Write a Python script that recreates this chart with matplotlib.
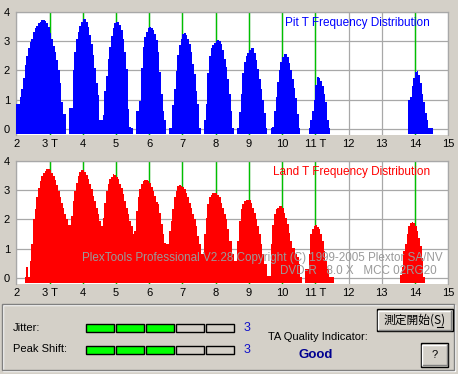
import numpy as np
import matplotlib.pyplot as plt
from matplotlib.patches import Rectangle

plt.rcParams['font.family'] = ['Liberation Sans', 'DejaVu Sans']
plt.rcParams['font.size'] = 8

W, H = 458, 374
BG = '#d4d0c8'

# histogram bin width (in T)
bin_w = 0.05

t_ticks = list(range(2, 16))
t_labels = ['2', '3 T', '4', '5', '6', '7', '8', '9', '10', '11 T', '12', '13', '14', '15']
ref_t = [3, 4, 5, 6, 7, 8, 9, 10, 11, 14]

# Pit T distribution: first bin of each peak + bin heights
pit_starts = [2.00, 3.60, 4.60, 5.60, 6.60, 7.65, 8.65, 9.65, 10.80, 13.80]
pit_heights = [
    [0.85, 0.85, 1.1, 1.37, 1.74, 2.17, 2.5, 2.77, 2.98, 3.09, 3.3, 3.44, 3.53, 3.61, 3.66,
     3.71, 3.72, 3.69, 3.61, 3.47, 3.27, 3.09, 2.84, 2.64, 2.35, 2.0, 1.57, 0.92, 0.5, 0.5],
    [0.72, 0.72, 2.0, 2.63, 3.09, 3.32, 3.53, 3.66, 3.76, 3.76, 3.66, 3.5, 3.22, 2.9, 2.53,
     2.07, 1.55, 1.15, 0.3, 0.3],
    [0.47, 1.3, 1.81, 2.4, 2.8, 3.18, 3.46, 3.61, 3.66, 3.66, 3.55, 3.37, 3.09, 2.63, 2.06,
     0.69, 0.05, 0.03],
    [0.6, 0.6, 0.94, 2.07, 2.8, 3.15, 3.32, 3.46, 3.48, 3.45, 3.38, 3.25, 3.05, 2.63, 1.95,
     1.2, 0.59, 0.29],
    [0.03, 0.03, 0.8, 1.37, 1.99, 2.52, 2.86, 3.09, 3.23, 3.27, 3.2, 3.09, 2.92, 2.63, 2.23,
     1.89, 1.3, 0.86, 0.03],
    [0.29, 0.86, 1.9, 2.5, 2.75, 2.86, 2.95, 3.0, 3.03, 3.0, 2.9, 2.7, 2.4, 2.1, 1.7, 1.2,
     0.6, 0.03],
    [0.03, 0.57, 1.2, 1.9, 2.3, 2.5, 2.6, 2.7, 2.77, 2.77, 2.6, 2.35, 2.05, 1.7, 1.35, 1.0,
     0.55, 0.03],
    [0.03, 0.05, 0.6, 1.1, 1.6, 2.0, 2.3, 2.45, 2.55, 2.55, 2.45, 2.25, 2.0, 1.7, 1.4, 1.05,
     0.5, 0.03],
    [0.03, 0.3, 0.6, 1.0, 1.5, 1.78, 1.75, 1.65, 1.45, 1.2, 0.9, 0.3, 0.03],
    [0.97, 1.1, 1.45, 1.75, 1.95, 1.98, 1.85, 1.55, 1.2, 0.9, 0.55, 0.3, 0.03, 0.03, 0.03],
]

# Land T distribution
land_starts = [2.25, 3.60, 4.60, 5.55, 6.55, 7.60, 8.60, 9.60, 10.70, 13.55]
land_heights = [
    [0.03, 0.38, 0.03, 0.57, 1.17, 2.0, 2.34, 2.75, 3.09, 3.32, 3.49, 3.6, 3.66, 3.72, 3.73,
     3.68, 3.6, 3.49, 3.34, 3.18, 2.98, 2.77, 2.57, 2.4, 2.18, 2.0, 1.8],
    [1.8, 2.1, 2.63, 2.98, 3.26, 3.49, 3.64, 3.7, 3.68, 3.64, 3.52, 3.37, 3.2, 3.03, 2.8,
     2.63, 2.4, 2.18, 1.95, 1.78],
    [2.06, 2.57, 2.98, 3.2, 3.37, 3.45, 3.55, 3.52, 3.45, 3.37, 3.22, 3.09, 2.86, 2.63, 2.4,
     2.18, 1.95, 1.78, 1.49],
    [1.6, 2.29, 2.75, 3.03, 3.2, 3.32, 3.35, 3.35, 3.32, 3.26, 3.12, 2.98, 2.8, 2.6, 2.52,
     2.23, 1.83, 1.49, 1.2, 1.14],
    [1.14, 1.6, 1.95, 2.35, 2.75, 2.98, 3.15, 3.17, 3.15, 3.1, 3.03, 2.92, 2.75, 2.57, 2.4,
     2.18, 2.0, 1.77, 1.43, 1.14, 0.8],
    [0.8, 1.49, 2.06, 2.52, 2.75, 2.84, 2.92, 2.92, 2.9, 2.84, 2.75, 2.57, 2.4, 2.18, 2.0,
     1.66, 1.26, 1.26, 0.8, 0.57],
    [0.57, 1.26, 1.95, 2.35, 2.52, 2.63, 2.66, 2.66, 2.66, 2.57, 2.4, 2.23, 2.0, 1.77, 1.49,
     1.14, 0.8, 0.46, 0.46, 0.06],
    [0.06, 1.14, 1.8, 2.18, 2.35, 2.4, 2.46, 2.46, 2.4, 2.23, 2.06, 1.83, 1.54, 1.26, 1.03,
     1.03, 0.8, 0.7, 0.46, 0.03],
    [0.29, 0.29, 0.8, 1.49, 1.66, 1.77, 1.81, 1.75, 1.66, 1.49, 1.26, 0.91, 0.57, 0.29, 0.03,
     0.03, 0.03],
    [0.1, 0.35, 0.91, 1.14, 1.49, 1.77, 1.89, 1.9, 1.89, 1.77, 1.6, 1.37, 1.09, 0.69, 0.03],
]

jitter_level = 3
peak_shift_level = 3
n_levels = 5
quality = 'Good'
watermark = 'PlexTools Professional V2.28 Copyright (C) 1999-2005 Plextor SA/NV'
disc_info = 'DVD-R   8.0 X   MCC 02RG20'


def draw_hist(ax, starts, heights, color):
    ax.set_facecolor('white')
    for s, h in zip(starts, heights):
        edges = s + bin_w * np.arange(len(h) + 1)
        ax.stairs(h, edges, baseline=-0.17, fill=True, color=color, lw=0, zorder=3)
    for t in ref_t:
        ax.axvline(t, color='#00c000', lw=1.0, zorder=2)
    ax.set_xlim(2, 15)
    ax.set_ylim(-0.2, 4)
    ax.set_xticks(t_ticks, t_labels)
    ax.set_yticks(range(5))
    ax.set_axisbelow(True)
    ax.grid(color='#a8a8a8', lw=0.9)
    ax.tick_params(length=0, labelsize=8)
    ax.tick_params(axis='x', pad=3.5)
    ax.tick_params(axis='y', pad=4.5)
    for side in ['left', 'top', 'right']:
        ax.spines[side].set_color('#a8a8a8')
        ax.spines[side].set_linewidth(0.9)
    ax.spines['bottom'].set_visible(False)


fig = plt.figure(figsize=(W / 100, H / 100), dpi=100, facecolor=BG)
ax_pit = fig.add_axes([16.3 / W, 1 - 134.5 / H, 432 / W, 122.5 / H])
ax_land = fig.add_axes([16.3 / W, 1 - 283.5 / H, 432 / W, 122.5 / H])
draw_hist(ax_pit, pit_starts, pit_heights, '#0000ff')
draw_hist(ax_land, land_starts, land_heights, '#ff0000')

# overlay in pixel coordinates for the labels and the control panel
ov = fig.add_axes([0, 0, 1, 1])
ov.set_xlim(0, W)
ov.set_ylim(H, 0)
ov.axis('off')

ov.text(430, 23, 'Pit T Frequency Distribution', color='#0000ff', ha='right', va='center', fontsize=8.5)
ov.text(430, 172, 'Land T Frequency Distribution', color='#ff0000', ha='right', va='center', fontsize=8.5)
ov.text(82, 258, watermark, color='#9a9a9a', ha='left', va='center', fontsize=8.4)
ov.text(280, 271, disc_info, color='#9a9a9a', ha='left', va='center', fontsize=8.4)

# etched frame of the lower panel
ov.add_patch(Rectangle((3, 305), 452, 66, fill=False, ec='white', lw=1))
ov.add_patch(Rectangle((2, 304), 452, 66, fill=False, ec='#808080', lw=1))

ov.text(12.5, 328, 'Jitter:', ha='left', va='center', fontsize=8)
ov.text(13, 349.5, 'Peak Shift:', ha='left', va='center', fontsize=8)
for row_y, level in [(323.5, jitter_level), (345.8, peak_shift_level)]:
    for i in range(n_levels):
        fc = '#00ff00' if i < level else BG
        ov.add_patch(Rectangle((86.3 + 30 * i, row_y), 27.4, 8.3, fc=fc, ec='black', lw=1.0))
    ov.text(243.5, row_y + 4.2, str(level), color='#1010c8', ha='left', va='center', fontsize=9)

ov.text(268.5, 337.5, 'TA Quality Indicator:', ha='left', va='center', fontsize=8)
ov.text(316, 354.5, quality, color='#000090', ha='center', va='center', fontsize=9.5, fontweight='bold')


def button(x, y, w, h, label, family=None, size=8.5):
    ov.add_patch(Rectangle((x, y), w, h, fc=BG, ec='black', lw=1.0))
    ov.plot([x + 1.5, x + 1.5, x + w - 2], [y + h - 2, y + 1.5, y + 1.5], color='white', lw=1.0)
    ov.plot([x + 2, x + w - 1.5, x + w - 1.5], [y + h - 1.5, y + h - 1.5, y + 2], color='#808080', lw=1.0)
    kw = {'family': family} if family else {}
    ov.text(x + w / 2, y + h / 2, label, ha='center', va='center', fontsize=size, **kw)


button(376.5, 309.3, 76, 21.7, '測定開始(S)', family=['Noto Sans CJK JP', 'DejaVu Sans'], size=8.5)
ov.plot([436.5, 443], [327, 327], color='black', lw=0.8)
button(420.7, 343.3, 27.6, 23.4, '?', size=8)

fig.savefig('out.png', dpi=100, facecolor=BG)
